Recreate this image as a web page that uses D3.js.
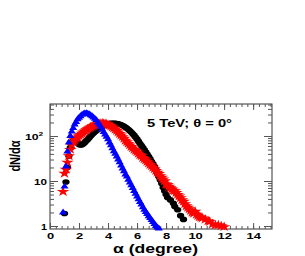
<!DOCTYPE html>
<html lang="en">
<head>
<meta charset="UTF-8">
<title>dN/dalpha at 5 TeV</title>
<script src="https://d3js.org/d3.v7.min.js"></script>
<style>
  body { margin: 0; background: #fff; }
  text { font-family: "Liberation Sans", Arial, sans-serif; font-weight: bold; }
</style>
</head>
<body>
<svg id="chart" width="305" height="256"></svg>
<script>
// ---- data ----
var blueAlpha = [0.9,1.0,1.1,1.2,1.3,1.4,1.5,1.6,1.7,1.8,1.9,2.0,2.1,2.2,2.3,2.4,2.5,2.6,2.7,2.8,2.9,3.0,3.1,3.2,3.3,3.4,3.5,3.6,3.7,3.8,3.9,4.0,4.1,4.2,4.3,4.4,4.5,4.6,4.7,4.8,4.9,5.0,5.1,5.2,5.3,5.4,5.5,5.6,5.7,5.8,5.9,6.0,6.1,6.2,6.3,6.4,6.5,6.6,6.7,6.8,6.9,7.0,7.1,7.2,7.3,7.4,7.5];
var blueN = [2.0,7.5,21,45,72,100,125,150,180,205,235,255,275,295,310,318,320,315,305,290,275,258,240,225,200,180,160,140,122,108,96,84,72,62,53,46,40,35,30,26,22,19,16.5,14,12.5,10.7,9.2,8.0,7.0,6.0,5.2,4.5,3.9,3.4,3.0,2.6,2.3,2.05,1.85,1.65,1.5,1.35,1.22,1.1,1.0,0.93,0.88];

var blackAlpha = [1.0,1.1,1.2,1.3,1.4,1.5,1.6,1.7,1.8,1.9,2.0,2.1,2.2,2.3,2.4,2.5,2.6,2.7,2.8,2.9,3.0,3.1,3.2,3.3,3.4,3.5,3.6,3.7,3.8,3.9,4.0,4.1,4.2,4.3,4.4,4.5,4.6,4.7,4.8,4.9,5.0,5.1,5.2,5.3,5.4,5.5,5.6,5.7,5.8,5.9,6.0,6.1,6.2,6.3,6.4,6.5,6.6,6.7,6.8,6.9,7.0,7.1,7.2,7.3,7.4,7.5,7.6,7.7,7.8,7.9,8.0,8.1,8.3,8.5,8.6,8.8,9.0,9.2];
var blackN = [1.9,9.5,20,36,55,70,78,80,76,70,65,63,64,67,72,78,84,92,100,108,116,124,132,140,148,155,162,168,174,180,185,189,191,192,192,191,189,186,182,177,171,164,156,148,139,130,121,112,103,94,85,76,68,61,55,49,44,39,35,31,27,24,21,18,15,12.5,10.5,8.8,7.2,6.0,5.0,4.3,3.8,3.2,2.7,2.3,1.7,1.4,0.9];

var redAlpha = [0.9,1.0,1.1,1.2,1.3,1.4,1.5,1.6,1.7,1.8,1.9,2.0,2.1,2.2,2.3,2.4,2.5,2.6,2.7,2.8,2.9,3.0,3.1,3.2,3.3,3.4,3.5,3.6,3.7,3.8,3.9,4.0,4.1,4.2,4.3,4.4,4.5,4.6,4.7,4.8,4.9,5.0,5.1,5.2,5.3,5.4,5.5,5.6,5.7,5.8,5.9,6.0,6.1,6.2,6.3,6.4,6.5,6.6,6.7,6.8,6.9,7.0,7.1,7.2,7.3,7.4,7.5,7.6,7.7,7.8,7.9,8.0,8.1,8.2,8.3,8.4,8.5,8.6,8.7,8.8,8.9,9.0,9.1,9.2,9.3,9.4,9.5,9.6,9.7,9.8,9.9,10.0,10.1,10.2,10.3,10.4,10.5,10.7,10.9,11.0,11.2,11.4,11.6,11.8,12.0];
var redN = [5.8,14.8,18,26,36,50,63,75,82,88,94,100,107,114,121,128,136,143,150,157,164,170,175,180,184,187,189,190,189,187,183,178,172,165,157,149,140,131,122,113,104,96,88,80,74,68,63,58,54,50,47,44,41,38,36,33,31,29,27,25,23,21.5,20,18.5,17,15.5,14.5,13,12,11,10,8.5,8.3,7.6,7.0,6.6,6.2,6.0,5.5,5.0,4.6,4.2,3.8,3.5,3.1,2.8,2.6,2.4,2.2,2.0,1.9,2.1,1.8,1.7,1.6,1.55,1.5,1.4,1.3,1.25,1.1,1.05,1.05,1.0,0.96];

var xMajorTicks = [0,2,4,6,8,10,12,14];
var yMajorTicks = [1,10,100];
var yTickLabels = ["1","10","10"];

var svg = d3.select("#chart");
var mLeft = 50, mRight = 272, mTop = 104, mBottom = 229;

var x = d3.scaleLinear().domain([0, 15.3]).range([mLeft, mRight]);
var y = d3.scaleLog().domain([0.858, 514]).range([mBottom, mTop]);

var xMinor = d3.range(0, 15.3, 0.4);
var yMinor = [];
[1,10,100].forEach(function(dec){ for (var k = 2; k <= 9; k++) if (dec*k < 514) yMinor.push(dec*k); });

// frame
svg.append("rect")
  .attr("x", mLeft).attr("y", mTop)
  .attr("width", mRight - mLeft).attr("height", mBottom - mTop)
  .attr("fill", "none").attr("stroke", "#333").attr("stroke-width", 1);

function tidy(g) { g.select(".domain").remove(); g.selectAll("line").attr("stroke", "#555"); }

// x minor ticks bottom/top
svg.append("g").attr("transform", "translate(0," + mBottom + ")")
  .call(d3.axisBottom(x).tickValues(xMinor).tickSize(-3).tickFormat(""))
  .call(tidy);
svg.append("g").attr("transform", "translate(0," + mTop + ")")
  .call(d3.axisTop(x).tickValues(xMinor).tickSize(-3).tickFormat(""))
  .call(tidy);
// x major
var gx = svg.append("g").attr("transform", "translate(0," + mBottom + ")")
  .call(d3.axisBottom(x).tickValues(xMajorTicks).tickSize(-6).tickPadding(3))
  .call(tidy);
svg.append("g").attr("transform", "translate(0," + mTop + ")")
  .call(d3.axisTop(x).tickValues(xMajorTicks).tickSize(-6).tickFormat(""))
  .call(tidy);
gx.selectAll("text")
  .attr("font-size", 9.5).attr("fill", "#000")
  .attr("font-family", "'Liberation Sans', Arial, sans-serif").attr("font-weight", "bold")
  .attr("textLength", function(d){ return String(d).length * 7.2; })
  .attr("lengthAdjust", "spacingAndGlyphs");

// y minor ticks left/right
svg.append("g").attr("transform", "translate(" + mLeft + ",0)")
  .call(d3.axisLeft(y).tickValues(yMinor).tickSize(-4).tickFormat(""))
  .call(tidy);
svg.append("g").attr("transform", "translate(" + mRight + ",0)")
  .call(d3.axisRight(y).tickValues(yMinor).tickSize(-4).tickFormat(""))
  .call(tidy);
// y major
var gy = svg.append("g").attr("transform", "translate(" + mLeft + ",0)")
  .call(d3.axisLeft(y).tickValues(yMajorTicks).tickSize(-8).tickPadding(3)
        .tickFormat(function(d, i){ return yTickLabels[i]; }))
  .call(tidy);
svg.append("g").attr("transform", "translate(" + mRight + ",0)")
  .call(d3.axisRight(y).tickValues(yMajorTicks).tickSize(-8).tickFormat(""))
  .call(tidy);
gy.selectAll("text")
  .attr("font-size", 9.5).attr("fill", "#000")
  .attr("font-family", "'Liberation Sans', Arial, sans-serif").attr("font-weight", "bold")
  .each(function(d){
    var t = d3.select(this);
    if (d === 100) {
      t.attr("x", -7);
      t.append("tspan").attr("dy", -4).attr("font-size", 6).text("2");
    }
  })
  .attr("textLength", function(d){ return d === 1 ? 6 : (d === 10 ? 13 : 18); })
  .attr("lengthAdjust", "spacingAndGlyphs");

// markers
var plot = svg.append("g");
function drawSeries(alpha, vals, type, size, sx, color) {
  var pts = alpha.map(function(a, i){ return { a: a, n: vals[i] }; });
  plot.append("g").selectAll("path")
    .data(pts)
    .enter()
    .append("path")
    .attr("d", d3.symbol().type(type).size(size))
    .attr("transform", function(d){ return "translate(" + x(d.a) + "," + y(d.n) + ") scale(" + sx + ",1)"; })
    .attr("fill", color);
}
drawSeries(blackAlpha, blackN, d3.symbolCircle, 25, 1.3, "#000000");
drawSeries(redAlpha, redN, d3.symbolStar, 32, 1.25, "#ff0000");
drawSeries(blueAlpha, blueN, d3.symbolTriangle, 20, 1.2, "#0000ff");

// annotation
svg.append("text")
  .attr("x", 147).attr("y", 127)
  .attr("font-size", 10)
  .attr("textLength", 85).attr("lengthAdjust", "spacingAndGlyphs")
  .text("5 TeV; \u03b8 = 0\u00b0");

// axis titles
svg.append("text")
  .attr("x", 113).attr("y", 253)
  .attr("font-size", 13)
  .attr("textLength", 85).attr("lengthAdjust", "spacingAndGlyphs")
  .text("\u03b1 (degree)");

svg.append("text")
  .attr("transform", "translate(20,156) rotate(-90) scale(1,1.4)")
  .attr("text-anchor", "middle")
  .attr("font-size", 11)
  .text("dN/d\u03b1");
</script>
</body>
</html>
